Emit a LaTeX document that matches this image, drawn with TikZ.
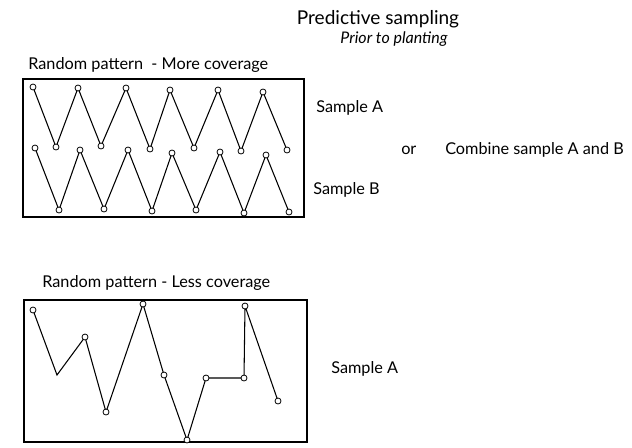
\documentclass[tikz,border=0pt]{standalone}
\usepackage{fontspec}
\setmainfont{Lato}
\tikzset{
  pt/.style={circle,draw,fill=white,inner sep=0pt,minimum size=4.5pt,line width=0.6pt},
  lbl/.style={anchor=west,font=\fontsize{12.2}{14}\selectfont,inner sep=0pt},
  frame/.style={draw,line width=0.9pt}
}
\begin{document}
\begin{tikzpicture}[x=0.75pt,y=-0.75pt]
    \useasboundingbox (0,0) rectangle (632,447);
    % Titles
    \node[font=\fontsize{14.3}{16}\selectfont] (title) at (378,19) {Predictive sampling};
    \node[font=\fontsize{12}{14}\selectfont\itshape] (sub) at (394,39) {Prior to planting};

    % Upper box
    \node[lbl] (top) at (28,65) {Random pattern \ - More coverage};
    \draw[frame] (23,79) rectangle (304,217);
    \foreach \x/\y [count=\i] in {33/87,56/147,78/88,101/146,126/88,150/149,170/90,194/148,218/90,241/151,263/92,287/150}
        \coordinate (a\i) at (\x,\y);
    \foreach \x/\y [count=\i] in {35/148,59/210,80/150,104/209,128/150,152/211,172/153,196/210,220/152,244/213,266/155,289/212}
        \coordinate (b\i) at (\x,\y);
    \draw[line width=0.8pt] (a1) \foreach \i in {2,...,12} {-- (a\i)};
    \draw[line width=0.8pt] (b1) \foreach \i in {2,...,12} {-- (b\i)};
    \foreach \i in {1,...,12} {\node[pt] at (a\i) {}; \node[pt] at (b\i) {};}
    \node[lbl] (sa) at (316,108) {Sample A};
    \node[lbl] (sb) at (313,190) {Sample B};
    \node[lbl] (or) at (401,150) {or};
    \node[lbl] (comb) at (445,150) {Combine sample A and B};

    % Lower box
    \node[lbl] (bot) at (42,283) {Random pattern - Less coverage};
    \draw[frame] (24,300) rectangle (307,442);
    \foreach \x/\y [count=\i] in {33/310,57/375,85/337,106/412,143/304,164/375,187/440,206/378,244/378,245/306,278/401}
        \coordinate (c\i) at (\x,\y);
    \draw[line width=0.8pt] (c1) \foreach \i in {2,...,11} {-- (c\i)};
    \foreach \i in {1,3,4,5,6,7,8,9,10,11} {\node[pt] at (c\i) {};}
    \node[lbl] (sc) at (331,369) {Sample A};
\end{tikzpicture}
\end{document}
